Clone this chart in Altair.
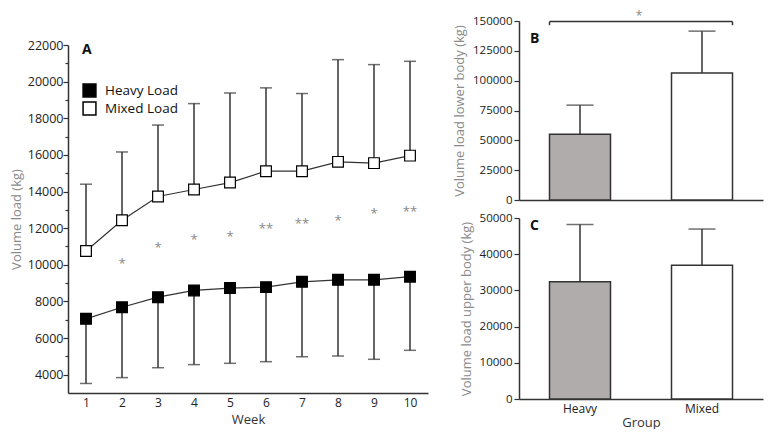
import altair as alt
import pandas as pd

# ---------------- data ----------------
weeks = [1, 2, 3, 4, 5, 6, 7, 8, 9, 10]
heavy_mean = [7050, 7680, 8230, 8600, 8730, 8780, 9070, 9180, 9180, 9350]
heavy_lower = [3520, 3840, 4380, 4550, 4620, 4710, 4980, 5020, 4840, 5330]
mixed_mean = [10750, 12430, 13730, 14110, 14490, 15110, 15110, 15620, 15550, 15960]
mixed_upper = [14400, 16160, 17630, 18800, 19380, 19660, 19350, 21200, 20930, 21110]

star_weeks = [2, 3, 4, 5, 6, 7, 8, 9, 10]
star_labels = ["*", "*", "*", "*", "**", "**", "*", "*", "**"]
star_values = [10230, 11060, 11520, 11700, 12100, 12410, 12550, 12920, 13050]

groups = ["Heavy", "Mixed"]
lower_mean = [55000, 106500]
lower_sd_top = [79500, 141500]
upper_mean = [32400, 36950]
upper_sd_top = [48200, 46950]

bracket_value = 149500
bracket_end_value = 146500
bracket_star_value = 154500

FONT = "Open Sans"
AXIS_COLOR = "#333333"
TITLE_GREY = "#8a8a8a"

# ---------------- panel A ----------------
df_a = pd.DataFrame({
    "week": weeks * 2,
    "group": ["Heavy Load"] * 10 + ["Mixed Load"] * 10,
    "mean": heavy_mean + mixed_mean,
    "err": heavy_lower + mixed_upper,
})
df_stars = pd.DataFrame({"week": star_weeks, "label": star_labels, "value": star_values})

xScaleA = alt.Scale(domain=[0.5, 10.5], nice=False, zero=False)
xAxisA = alt.Axis(values=weeks, title="Week", tickSize=0, grid=False,
                  labelPadding=4, format="d", labelFontSize=12,
                  labelOverlap=False, labelFlush=False,
                  titleFontSize=13, titleFontWeight="normal",
                  titleColor="#333333", titlePadding=5)
yScaleA = alt.Scale(domain=[3000, 22000], nice=False, zero=False)
yAxisA = alt.Axis(values=list(range(4000, 22001, 1000)),
                  labelExpr="datum.value % 2000 === 0 ? datum.label : ''",
                  tickSize=alt.expr("datum.value % 2000 === 0 ? 5 : 3"),
                  labelOverlap=False, labelFlush=False, format="d", grid=False,
                  title="Volume load (kg)", titleColor=TITLE_GREY,
                  titleFontSize=13, titleFontWeight="normal",
                  labelFontSize=12.5, labelPadding=0, titlePadding=4)


def XA(field):
    return alt.X(field, scale=xScaleA, axis=xAxisA)


def YA(field):
    return alt.Y(field, scale=yScaleA, axis=yAxisA)


base_a = alt.Chart(df_a)
err_rules = base_a.mark_rule(color=AXIS_COLOR, strokeWidth=1.5).encode(
    x=XA("week:Q"), y=YA("mean:Q"), y2="err:Q")
err_caps = base_a.mark_tick(orient="horizontal", size=12, thickness=1.5,
                            color=AXIS_COLOR).encode(
    x=XA("week:Q"), y=YA("err:Q"))
lines = base_a.mark_line(color=AXIS_COLOR, strokeWidth=1.2).encode(
    x=XA("week:Q"), y=YA("mean:Q"), detail="group:N")
points = base_a.mark_point(shape="square", filled=True, size=115, stroke="black",
                           strokeWidth=1.2, opacity=1).encode(
    x=XA("week:Q"), y=YA("mean:Q"),
    fill=alt.Fill("group:N",
                  scale=alt.Scale(domain=["Heavy Load", "Mixed Load"],
                                  range=["black", "white"]),
                  legend=alt.Legend(title=None, orient="none", legendX=14, legendY=62,
                                    symbolType="square", symbolSize=165,
                                    symbolStrokeColor="black", symbolStrokeWidth=1.5,
                                    labelFontSize=13.5, labelFont=FONT, labelColor="#111111",
                                    rowPadding=-1, labelOffset=8, padding=0)))
stars = alt.Chart(df_stars).mark_text(font=FONT, fontSize=13, color="#888888",
                                      baseline="middle", dy=3).encode(
    x=XA("week:Q"), y=YA("value:Q"), text="label:N")
letterA = alt.Chart(pd.DataFrame({"t": ["A"]})).mark_text(
    font=FONT, fontSize=14, fontWeight="bold", align="left", baseline="top",
    color="#111111").encode(x=alt.value(14), y=alt.value(-2), text="t:N")

panelA = alt.layer(err_rules, err_caps, lines, points, stars, letterA).properties(
    width=360, height=348)

spacer = alt.Chart(pd.DataFrame({"t": [""]})).mark_text().encode(
    text="t:N").properties(width=360, height=18)

left = alt.vconcat(spacer, panelA, spacing=0)

# ---------------- panels B and C ----------------
fill_scale = alt.Scale(domain=groups, range=["#b0acab", "white"])
x_band = alt.Scale(domain=groups, paddingInner=0.5, paddingOuter=0.25)


def bar_panel(means, tops, dmax, step, title, letter, letter_y, show_x):
    df = pd.DataFrame({"group": groups, "mean": means, "top": tops})
    if show_x:
        xaxis = alt.Axis(title="Group", labelAngle=0, tickSize=0, labelFontSize=12,
                         titleFontSize=13, titleFontWeight="normal",
                         titleColor="#333333", labelPadding=4, titlePadding=2,
                         domainColor=AXIS_COLOR, domainWidth=1.5)
    else:
        xaxis = alt.Axis(title=None, labels=False, ticks=False,
                         domainColor=AXIS_COLOR, domainWidth=1.5)
    ysc = alt.Scale(domain=[0, dmax], nice=False)
    yaxis = alt.Axis(values=list(range(0, dmax + 1, step)), format="d",
                     grid=False, title=title, titleColor=TITLE_GREY,
                     titleFontSize=13, titleFontWeight="normal",
                     labelFontSize=11.5, labelPadding=2, tickSize=5,
                     titlePadding=6, labelOverlap=False, labelFlush=False)

    def X(field, **kw):
        return alt.X(field, scale=x_band, axis=xaxis, **kw)

    def Y(field):
        return alt.Y(field, scale=ysc, axis=yaxis)

    base = alt.Chart(df)
    bars = base.mark_bar(stroke=AXIS_COLOR, strokeWidth=1.5).encode(
        x=X("group:N"), y=Y("mean:Q"),
        fill=alt.Fill("group:N", scale=fill_scale, legend=None))
    err = base.mark_rule(color=AXIS_COLOR, strokeWidth=1.5).encode(
        x=X("group:N"), y=Y("mean:Q"), y2="top:Q")
    cap = base.mark_tick(orient="horizontal", size=27, thickness=1.5,
                         color=AXIS_COLOR).encode(x=X("group:N"), y=Y("top:Q"))
    letter_t = alt.Chart(pd.DataFrame({"t": [letter]})).mark_text(
        font=FONT, fontSize=14, fontWeight="bold", align="left", baseline="top",
        color="#111111").encode(x=alt.value(11), y=alt.value(letter_y), text="t:N")
    layers = [bars, err, cap, letter_t]
    if letter == "B":
        df_br = pd.DataFrame({"g1": ["Heavy"], "g2": ["Mixed"], "y": [bracket_value],
                              "yend": [bracket_end_value], "ys": [bracket_star_value],
                              "s": ["*"]})
        cb = alt.Chart(df_br)
        br_h = cb.mark_rule(color=AXIS_COLOR, strokeWidth=1.5).encode(
            x=X("g1:N", bandPosition=0), x2=alt.X2("g2:N", bandPosition=1), y=Y("y:Q"))
        br_l = cb.mark_rule(color=AXIS_COLOR, strokeWidth=1.5).encode(
            x=X("g1:N", bandPosition=0), y=Y("y:Q"), y2="yend:Q")
        br_r = cb.mark_rule(color=AXIS_COLOR, strokeWidth=1.5).encode(
            x=X("g2:N", bandPosition=1), y=Y("y:Q"), y2="yend:Q")
        br_s = cb.mark_text(font=FONT, fontSize=12, color="#888888",
                            baseline="middle").encode(
            x=alt.value(120), y=Y("ys:Q"), text="s:N")
        layers += [br_h, br_l, br_r, br_s]
    return alt.layer(*layers)


panelB = bar_panel(lower_mean, lower_sd_top, 150000, 25000,
                   "Volume load lower body (kg)", "B", 11, False).properties(
    width=244, height=179)
panelC = bar_panel(upper_mean, upper_sd_top, 50000, 10000,
                   "Volume load upper body (kg)", "C", 1, True).properties(
    width=244, height=181)

right = alt.vconcat(panelB, panelC, spacing=6)

chart = alt.hconcat(left, right, spacing=25).resolve_scale(
    fill="independent"
).resolve_legend(fill="independent").properties(
    padding={"left": 2, "top": 1, "right": 2, "bottom": 0}
).configure_view(stroke=None).configure_axis(
    labelFont=FONT, titleFont=FONT, labelColor="#222222",
    domainColor=AXIS_COLOR, tickColor=AXIS_COLOR, domainWidth=1.5, tickWidth=1.2
).configure_text(font=FONT)

chart.save("out.html", embed_options={"renderer": "svg", "actions": False})
